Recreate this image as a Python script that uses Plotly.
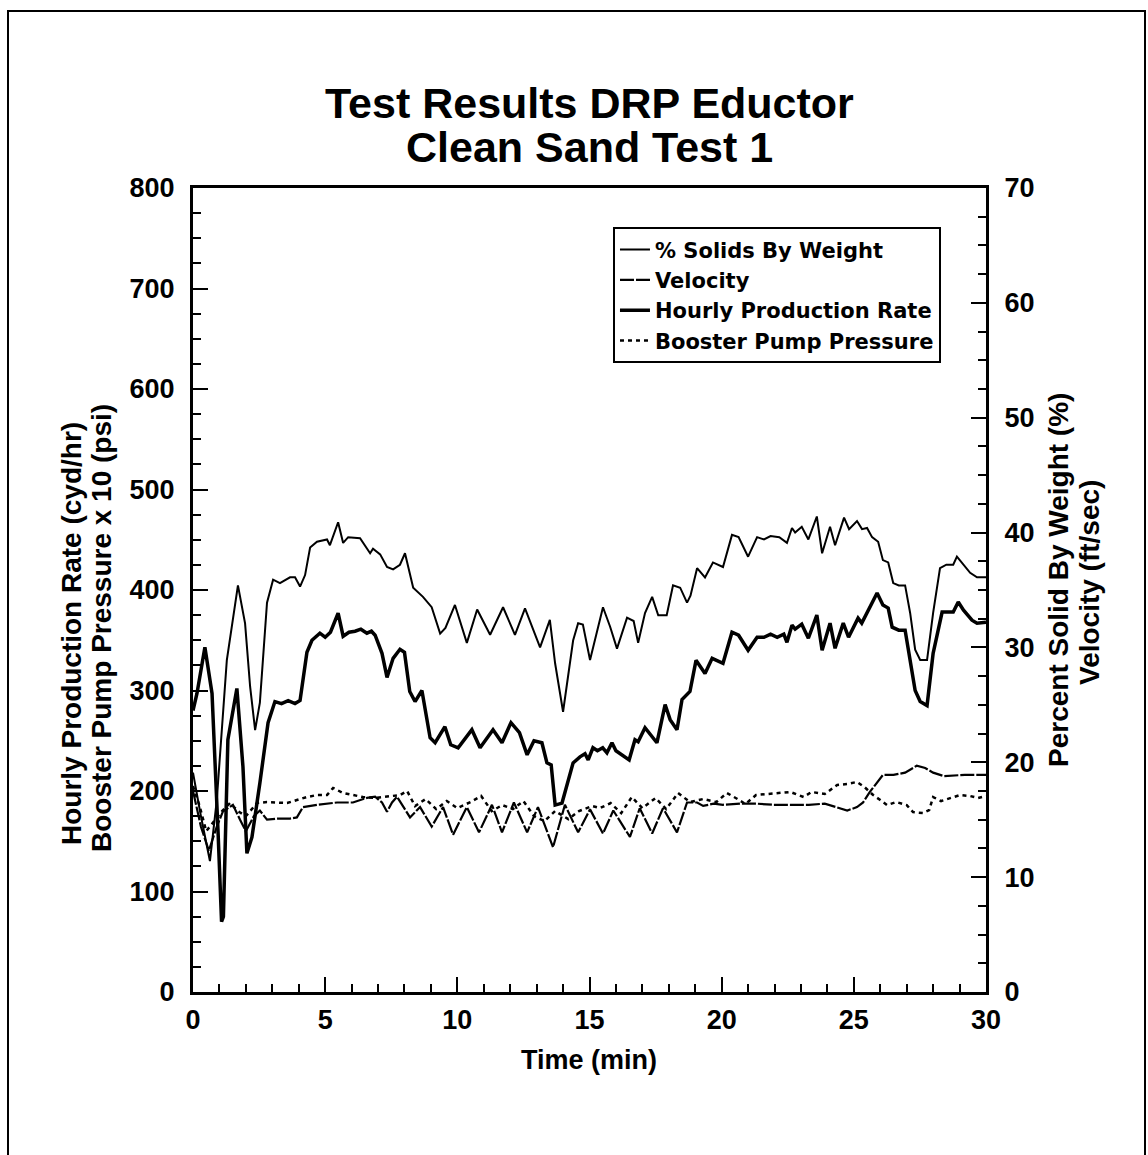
import plotly.graph_objects as go

# ---- data ----
# % Solids By Weight (right axis, %)
solids_t = [0.0, 0.3, 0.64, 0.9, 1.28, 1.7, 1.97, 2.16, 2.35, 2.53, 2.8, 3.03, 3.29, 3.67, 3.86, 4.05, 4.24, 4.43, 4.69, 5.07, 5.18, 5.49, 5.68, 5.87, 6.32, 6.7, 6.81, 7.08, 7.34, 7.57, 7.83, 8.02, 8.33, 8.7, 9.03, 9.35, 9.55, 9.91, 10.36, 10.75, 11.24, 11.73, 12.18, 12.56, 13.13, 13.5, 13.7, 14.0, 14.38, 14.57, 14.75, 15.02, 15.51, 15.78, 16.04, 16.42, 16.67, 16.84, 17.1, 17.37, 17.6, 17.92, 18.16, 18.43, 18.69, 18.82, 19.07, 19.37, 19.67, 20.05, 20.39, 20.64, 21.0, 21.34, 21.6, 21.85, 22.18, 22.47, 22.66, 22.78, 23.03, 23.28, 23.6, 23.8, 24.1, 24.29, 24.63, 24.82, 25.12, 25.31, 25.5, 25.69, 25.92, 26.1, 26.3, 26.49, 26.7, 26.94, 27.13, 27.32, 27.51, 27.77, 28.0, 28.26, 28.5, 28.76, 28.9, 29.15, 29.4, 29.66, 30.0]
solids_pct = [19.1, 15.3, 11.4, 16.7, 28.9, 35.4, 32.1, 26.6, 22.8, 25.2, 33.9, 35.9, 35.6, 36.1, 36.1, 35.3, 36.3, 38.7, 39.2, 39.4, 38.9, 40.9, 39.1, 39.6, 39.5, 38.2, 38.6, 38.1, 37.0, 36.8, 37.2, 38.2, 35.2, 34.4, 33.5, 31.2, 31.7, 33.7, 30.4, 33.3, 31.1, 33.5, 31.1, 33.4, 30.0, 32.4, 28.6, 24.4, 30.6, 32.1, 32.0, 28.9, 33.5, 31.8, 29.9, 32.6, 32.3, 30.4, 33.0, 34.4, 32.8, 32.8, 35.4, 35.2, 33.9, 34.5, 36.9, 36.1, 37.4, 37.0, 39.8, 39.6, 37.9, 39.6, 39.4, 39.7, 39.6, 39.1, 40.4, 40.0, 40.5, 39.4, 41.4, 38.2, 40.5, 38.9, 41.3, 40.3, 41.0, 40.3, 40.4, 39.6, 39.2, 37.6, 37.4, 35.6, 35.4, 35.4, 33.0, 29.8, 28.9, 28.9, 33.0, 36.9, 37.2, 37.2, 37.9, 37.2, 36.5, 36.1, 36.1]

# Velocity (right axis, ft/sec)
vel_t = [0.0, 0.3, 0.6, 0.9, 1.13, 1.51, 1.78, 2.0, 2.3, 2.53, 2.8, 3.18, 3.67, 3.93, 4.16, 4.69, 5.45, 6.05, 6.58, 6.89, 7.15, 7.34, 7.53, 7.72, 8.21, 8.59, 9.03, 9.46, 9.84, 10.36, 10.82, 11.31, 11.69, 12.14, 12.64, 13.05, 13.62, 14.07, 14.57, 15.02, 15.51, 15.9, 16.53, 16.9, 17.37, 17.78, 18.31, 18.69, 19.07, 19.3, 19.7, 20.05, 20.7, 21.3, 21.95, 22.6, 23.3, 23.9, 24.37, 24.75, 25.12, 25.35, 25.6, 25.88, 26.1, 26.5, 26.94, 27.38, 27.7, 28.0, 28.4, 29.2, 30.0]
vel_fps = [17.5, 14.4, 12.3, 14.4, 15.7, 16.3, 15.0, 14.0, 15.3, 15.8, 15.0, 15.1, 15.1, 15.2, 16.1, 16.3, 16.5, 16.5, 16.9, 17.0, 16.5, 15.7, 16.5, 17.0, 15.2, 16.1, 14.4, 16.1, 13.7, 16.1, 13.9, 16.3, 13.9, 16.5, 13.9, 16.1, 12.6, 16.3, 13.9, 15.9, 13.8, 15.8, 13.5, 16.0, 13.8, 16.0, 13.9, 16.5, 16.5, 16.2, 16.4, 16.3, 16.4, 16.4, 16.3, 16.3, 16.3, 16.4, 16.1, 15.8, 16.1, 16.5, 17.4, 18.3, 18.9, 18.9, 19.1, 19.7, 19.5, 19.1, 18.8, 18.9, 18.9]

# Hourly Production Rate (left axis, cyd/hr)
rate_t = [0.0, 0.15, 0.45, 0.72, 0.95, 1.08, 1.15, 1.32, 1.66, 1.89, 2.04, 2.23, 2.53, 2.84, 3.1, 3.35, 3.6, 3.86, 4.05, 4.31, 4.5, 4.8, 5.0, 5.2, 5.49, 5.68, 5.9, 6.13, 6.35, 6.58, 6.75, 6.89, 7.15, 7.34, 7.57, 7.83, 8.0, 8.2, 8.4, 8.66, 8.97, 9.16, 9.53, 9.75, 10.03, 10.3, 10.55, 10.86, 11.35, 11.69, 12.03, 12.35, 12.64, 12.9, 13.2, 13.39, 13.55, 13.7, 13.96, 14.38, 14.64, 14.83, 14.95, 15.13, 15.3, 15.5, 15.66, 15.85, 16.0, 16.5, 16.72, 16.84, 17.1, 17.55, 17.86, 18.05, 18.31, 18.5, 18.8, 19.03, 19.37, 19.64, 20.05, 20.39, 20.64, 21.0, 21.34, 21.6, 21.85, 22.1, 22.35, 22.47, 22.66, 22.78, 23.03, 23.28, 23.6, 23.8, 24.1, 24.29, 24.6, 24.8, 25.16, 25.3, 25.6, 25.88, 26.1, 26.3, 26.45, 26.7, 26.94, 27.13, 27.32, 27.51, 27.77, 28.0, 28.34, 28.55, 28.76, 28.95, 29.15, 29.47, 29.66, 30.0]
rate_cyd = [280, 297, 343, 297, 158, 70, 75, 251, 302, 224, 138, 154, 208, 268, 289, 287, 290, 287, 290, 338, 350, 357, 353, 358, 377, 354, 358, 359, 361, 357, 359, 355, 337, 313, 332, 341, 338, 299, 289, 300, 253, 248, 264, 246, 243, 252, 261, 243, 261, 248, 268, 258, 236, 250, 248, 228, 226, 186, 188, 228, 234, 237, 231, 243, 240, 243, 238, 248, 240, 231, 251, 249, 263, 248, 286, 271, 261, 291, 299, 330, 317, 332, 327, 358, 355, 340, 353, 353, 356, 353, 356, 348, 365, 361, 366, 352, 375, 340, 367, 342, 367, 353, 372, 367, 383, 397, 385, 382, 363, 360, 360, 330, 300, 289, 285, 337, 378, 378, 378, 388, 380, 370, 367, 368]

# Booster Pump Pressure x 10 (left axis, psi)
press_t = [0.0, 0.25, 0.5, 0.8, 1.1, 1.4, 1.7, 2.0, 2.42, 2.8, 3.56, 3.93, 4.31, 4.69, 5.07, 5.3, 5.68, 6.05, 6.43, 6.9, 7.3, 7.83, 8.1, 8.4, 8.8, 9.2, 9.6, 10.0, 10.5, 10.9, 11.3, 11.7, 12.1, 12.5, 12.9, 13.3, 13.7, 14.2, 14.6, 15.1, 15.4, 15.8, 16.2, 16.6, 17.0, 17.5, 17.9, 18.35, 18.8, 19.3, 19.8, 20.2, 20.6, 20.9, 21.3, 21.8, 22.3, 22.6, 23.1, 23.4, 23.9, 24.37, 24.75, 25.12, 25.4, 25.73, 26.0, 26.26, 26.6, 27.0, 27.24, 27.62, 27.85, 28.0, 28.3, 28.7, 29.02, 29.4, 29.7, 30.0]
press_x10 = [205, 185, 160, 170, 180, 188, 180, 175, 188, 189, 188, 191, 194, 196, 196, 203, 198, 196, 194, 193, 194, 196, 200, 185, 192, 182, 190, 183, 189, 195, 180, 186, 182, 190, 175, 170, 180, 172, 180, 185, 183, 188, 178, 194, 183, 193, 182, 198, 189, 192, 189, 198, 192, 187, 196, 197, 198, 199, 194, 199, 197, 206, 207, 209, 204, 196, 191, 186, 189, 186, 179, 178, 181, 194, 190, 193, 196, 195, 193, 195]

left_ticks = [0, 100, 200, 300, 400, 500, 600, 700, 800]
right_ticks = [0, 10, 20, 30, 40, 50, 60, 70]
x_ticks = [0, 5, 10, 15, 20, 25, 30]

BFONT = "Liberation Sans, Arial, sans-serif"
LFONT = "DejaVu Sans, Liberation Sans, sans-serif"

fig = go.Figure()
fig.add_trace(go.Scatter(x=solids_t, y=solids_pct, yaxis="y2", mode="lines",
                         name="% Solids By Weight", line=dict(color="black", width=2)))
fig.add_trace(go.Scatter(x=vel_t, y=vel_fps, yaxis="y2", mode="lines",
                         name="Velocity", line=dict(color="black", width=2.2, dash="14px,2px")))
fig.add_trace(go.Scatter(x=rate_t, y=rate_cyd, mode="lines",
                         name="Hourly Production Rate", line=dict(color="black", width=3.5)))
fig.add_trace(go.Scatter(x=press_t, y=press_x10, mode="lines",
                         name="Booster Pump Pressure", line=dict(color="black", width=2.5, dash="4px,4px")))

tickfont = dict(family=BFONT, size=27, color="black", weight="bold")

fig.update_layout(
    width=1148, height=1155,
    margin=dict(l=193, r=162, t=188, b=163),
    paper_bgcolor="white", plot_bgcolor="white",
    showlegend=True,
    legend=dict(x=0.5296, y=0.951, xanchor="left", yanchor="top",
                bordercolor="black", borderwidth=2, bgcolor="white",
                font=dict(family=LFONT, size=21, color="black", weight="bold"),
                itemwidth=30, tracegroupgap=0),
    xaxis=dict(range=[0, 30], tickvals=x_ticks, ticks="inside", ticklen=15, tickwidth=2,
               tickcolor="black", showline=True, linecolor="black", linewidth=3,
               mirror=True, showgrid=False, zeroline=False, tickfont=tickfont,
               ticklabelstandoff=2,
               minor=dict(dtick=1, ticks="inside", ticklen=8, tickwidth=2, tickcolor="black", showgrid=False)),
    yaxis=dict(range=[0, 800], tickvals=left_ticks, ticks="inside", ticklen=15, tickwidth=2,
               tickcolor="black", showline=True, linecolor="black", linewidth=3,
               showgrid=False, zeroline=False, tickfont=tickfont, ticklabelstandoff=10,
               minor=dict(dtick=25, ticks="inside", ticklen=8, tickwidth=2, tickcolor="black", showgrid=False)),
    yaxis2=dict(range=[0, 70], tickvals=right_ticks, overlaying="y", side="right",
                ticks="inside", ticklen=15, tickwidth=2, tickcolor="black",
                showline=True, linecolor="black", linewidth=3,
                showgrid=False, zeroline=False, tickfont=tickfont, ticklabelstandoff=10,
                minor=dict(dtick=2.5, ticks="inside", ticklen=8, tickwidth=2, tickcolor="black", showgrid=False)),
)

def px_x(px):
    return (px - 193) / 793.0

def px_y(py):
    return (992 - py) / 804.0

ytitle_font = dict(family=BFONT, size=28, color="black", weight="bold")
title_font = dict(family=BFONT, size=43, color="black", weight="bold")
annotations = [
    dict(text="Test Results DRP Eductor", x=px_x(589), y=px_y(103), font=title_font),
    dict(text="Clean Sand Test 1", x=px_x(589), y=px_y(147), font=title_font),
    dict(text="Hourly Production Rate (cyd/hr)", x=px_x(71), y=px_y(634), textangle=-90, font=ytitle_font),
    dict(text="Booster Pump Pressure x 10 (psi)", x=px_x(101), y=px_y(628), textangle=-90, font=ytitle_font),
    dict(text="Percent Solid By Weight (%)", x=px_x(1058), y=px_y(580), textangle=-90, font=ytitle_font),
    dict(text="Velocity (ft/sec)", x=px_x(1089), y=px_y(583), textangle=-90, font=ytitle_font),
    dict(text="Time (min)", x=px_x(589), y=px_y(1060), font=dict(family=BFONT, size=27, color="black", weight="bold")),
]
for a in annotations:
    a.update(xref="paper", yref="paper", showarrow=False, xanchor="center", yanchor="middle")
fig.update_layout(annotations=annotations)

fig.add_shape(type="rect", xref="paper", yref="paper",
              x0=px_x(8), x1=px_x(1145), y0=px_y(1170), y1=px_y(11),
              line=dict(color="black", width=2), fillcolor="rgba(0,0,0,0)", layer="below")

fig.write_html("out.html")
